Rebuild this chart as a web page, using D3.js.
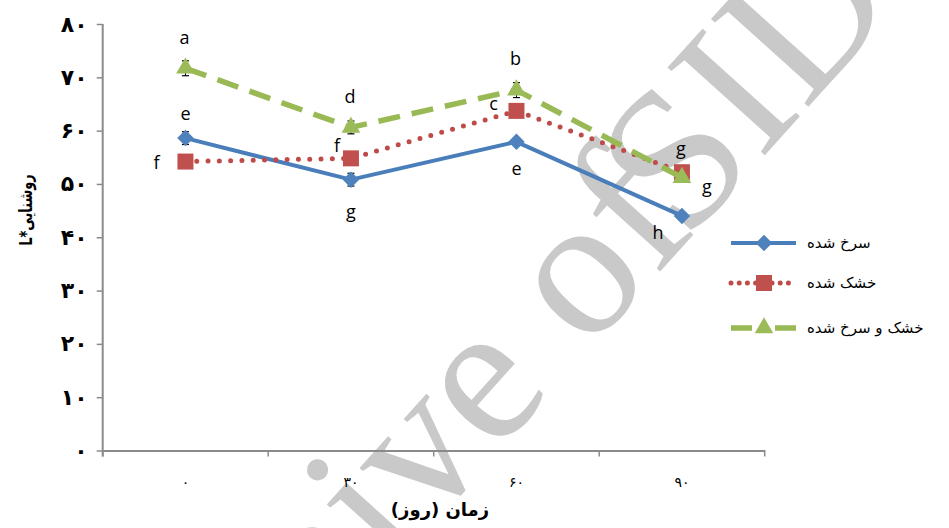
<!DOCTYPE html>
<html>
<head>
<meta charset="utf-8">
<script src="https://cdn.jsdelivr.net/npm/d3@7"></script>
<style>
  html, body { margin: 0; padding: 0; background: #fff; }
  svg { display: block; }
</style>
</head>
<body>
<svg id="chart" width="949" height="528"></svg>
<script>
// Storage time (days) on the x axis, Persian digits
const categories = ["۰", "۳۰", "۶۰", "۹۰"];

// L* lightness per treatment
const friedValues      = [58.6, 50.8, 57.9, 44.0];
const driedValues      = [54.2, 54.8, 63.7, 52.2];
const driedFriedValues = [71.7, 60.6, 67.6, 51.2];

// Standard error per point
const friedErrors      = [1.2, 1.2, 0.6, 0.6];
const driedErrors      = [0.5, 0.5, 1.0, 0.5];
const driedFriedErrors = [1.4, 1.2, 1.4, 0.5];

// Significance letters
const friedLetters      = ["e", "g", "e", "h"];
const driedLetters      = ["f", "f", "c", "g"];
const driedFriedLetters = ["a", "d", "b", "g"];

// Series names (legend)
const seriesNames = ["سرخ شده", "خشک شده", "خشک و سرخ شده"];

// Y axis ticks and their Persian labels
const yTickValues = [0, 10, 20, 30, 40, 50, 60, 70, 80];
const yTickLabels = ["۰", "۱۰", "۲۰", "۳۰", "۴۰", "۵۰", "۶۰", "۷۰", "۸۰"];

const xTitle = "زمان (روز)";
const yTitle = "L*روشنایی";

const svg = d3.select("#chart");
const W = 949, H = 528;
svg.append("rect").attr("width", W).attr("height", H).attr("fill", "#fff");

// Archive watermark behind the chart
const wm = svg.append("text")
  .attr("transform", "translate(123,868) rotate(-48)")
  .attr("text-anchor", "start")
  .attr("font-family", "'Liberation Serif', 'Times New Roman', serif")
  .attr("font-size", 200)
  .attr("fill", "#c9c9c9");
wm.append("tspan").text("Archive of");
wm.append("tspan").attr("dx", -70).text(" SID");

const plot = { left: 102.7, right: 764.7, top: 24, bottom: 450.5 };

const x = d3.scaleBand().domain(categories).range([plot.left, plot.right]);
const y = d3.scaleLinear().domain([0, 80]).range([plot.bottom, plot.top]);
const cx = c => x(c) + x.bandwidth() / 2;

const axisColor = "#8a8a8a";
const persianFont = "'DejaVu Sans', sans-serif";

// Y axis
const yAxis = svg.append("g")
  .attr("transform", `translate(${plot.left},0)`)
  .call(d3.axisLeft(y)
    .tickValues(yTickValues)
    .tickSize(6)
    .tickSizeOuter(0)
    .tickPadding(9)
    .tickFormat((d, i) => yTickLabels[i]));
yAxis.select(".domain").attr("stroke", axisColor).attr("stroke-width", 2)
  .attr("d", `M0,${plot.top}V${plot.bottom + 6}`);
yAxis.selectAll(".tick line").attr("stroke", axisColor).attr("stroke-width", 1.5);
yAxis.selectAll(".tick text")
  .attr("font-family", persianFont)
  .attr("font-weight", "bold")
  .attr("font-size", 22)
  .attr("fill", "#000");

// X axis: line with ticks on category boundaries
const xAxis = svg.append("g")
  .attr("transform", `translate(0,${plot.bottom})`)
  .call(d3.axisBottom(x).tickSize(0).tickPadding(27));
xAxis.select(".domain").attr("stroke", axisColor).attr("stroke-width", 2);
xAxis.selectAll(".tick text")
  .attr("font-family", persianFont)
  .attr("font-size", 14)
  .attr("fill", "#000");
const boundaries = categories.map(c => x(c)).concat([plot.right]);
xAxis.selectAll("line.bound").data(boundaries).join("line")
  .attr("class", "bound")
  .attr("x1", d => d).attr("x2", d => d)
  .attr("y1", 0).attr("y2", 6)
  .attr("stroke", axisColor).attr("stroke-width", 1.5);

// Axis titles
svg.append("text")
  .attr("x", 440).attr("y", 516)
  .attr("text-anchor", "middle")
  .attr("direction", "rtl")
  .style("direction", "rtl")
  .style("unicode-bidi", "embed")
  .attr("font-family", persianFont)
  .attr("font-weight", "bold")
  .attr("font-size", 18)
  .text(xTitle);

svg.append("text")
  .attr("transform", "translate(32,210) rotate(-90) scale(0.72,1)")
  .attr("text-anchor", "middle")
  .attr("font-family", persianFont)
  .attr("font-weight", "bold")
  .attr("font-size", 18)
  .text(yTitle);

// Series definitions
const series = [
  { name: seriesNames[0], values: friedValues, errors: friedErrors, letters: friedLetters,
    color: "#4a7ebb", fill: "#4f81bd", width: 4, dash: null, cap: "butt",
    symbol: d3.symbolSquare, size: 135, rotate: 45,
    offsets: [[0, -25], [0, 31], [0, 26], [-24, 16]] },
  { name: seriesNames[1], values: driedValues, errors: driedErrors, letters: driedLetters,
    color: "#be4b48", fill: "#c0504d", width: 5, dash: "0 11.3", cap: "round",
    symbol: d3.symbolSquare, size: 256, rotate: 0,
    offsets: [[-29, 0], [-14, -13], [-23, -8], [-1, -24]] },
  { name: seriesNames[2], values: driedFriedValues, errors: driedFriedErrors, letters: driedFriedLetters,
    color: "#98b954", fill: "#9bbb59", width: 5.5, dash: "22 12", cap: "butt",
    symbol: d3.symbolTriangle, size: 150, rotate: 0,
    offsets: [[-1, -31], [-1, -31], [-1, -32], [25, 8]] }
];

const line = d3.line().x(d => cx(d.c)).y(d => y(d.v));

series.forEach(s => {
  const pts = categories.map((c, i) => ({ c, v: s.values[i], e: s.errors[i] }));
  const g = svg.append("g");

  g.append("path")
    .datum(pts)
    .attr("d", line)
    .attr("fill", "none")
    .attr("stroke", s.color)
    .attr("stroke-width", s.width)
    .attr("stroke-linecap", s.cap)
    .attr("stroke-linejoin", "round")
    .attr("stroke-dasharray", s.dash);

  // Error bars
  const eb = g.selectAll("g.err").data(pts).join("g").attr("class", "err");
  eb.append("line")
    .attr("x1", d => cx(d.c)).attr("x2", d => cx(d.c))
    .attr("y1", d => y(d.v - d.e)).attr("y2", d => y(d.v + d.e))
    .attr("stroke", "#000").attr("stroke-width", 1);
  [1, -1].forEach(sign => {
    eb.append("line")
      .attr("x1", d => cx(d.c) - 3.5).attr("x2", d => cx(d.c) + 3.5)
      .attr("y1", d => y(d.v + sign * d.e)).attr("y2", d => y(d.v + sign * d.e))
      .attr("stroke", "#000").attr("stroke-width", 1.2);
  });

  // Markers
  g.selectAll("path.mark").data(pts).join("path")
    .attr("class", "mark")
    .attr("d", d3.symbol(s.symbol, s.size))
    .attr("transform", d => `translate(${cx(d.c)},${y(d.v)}) rotate(${s.rotate})`)
    .attr("fill", s.fill);
});

// Significance letters
series.forEach(s => {
  svg.append("g").selectAll("text").data(categories).join("text")
    .attr("x", (c, i) => cx(c) + s.offsets[i][0])
    .attr("y", (c, i) => y(s.values[i]) + s.offsets[i][1])
    .attr("text-anchor", "middle")
    .attr("dominant-baseline", "central")
    .attr("font-family", "'Open Sans', 'Liberation Sans', sans-serif")
    .attr("font-size", 18)
    .attr("fill", "#000")
    .text((c, i) => s.letters[i]);
});

// Legend
const legend = svg.append("g");
const legendRows = [243, 283, 328];
series.forEach((s, i) => {
  const row = legend.append("g").attr("transform", `translate(0,${legendRows[i]})`);
  row.append("line")
    .attr("x1", 731).attr("x2", 796).attr("y1", 0).attr("y2", 0)
    .attr("stroke", s.color)
    .attr("stroke-width", s.width)
    .attr("stroke-linecap", s.cap)
    .attr("stroke-dasharray", i === 1 ? "0 8.2" : (i === 2 ? "21 23" : null));
  row.append("path")
    .attr("d", d3.symbol(s.symbol, s.size))
    .attr("transform", `translate(764,0) rotate(${s.rotate})`)
    .attr("fill", s.fill);
  row.append("text")
    .attr("x", 807).attr("y", 0)
    .attr("dominant-baseline", "central")
    .attr("font-family", persianFont)
    .attr("font-size", 15)
    .attr("fill", "#000")
    .text(s.name);
});
</script>
</body>
</html>
